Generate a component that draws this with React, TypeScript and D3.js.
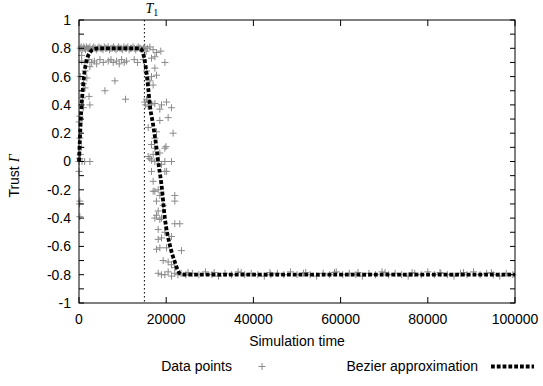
import React from 'react';
import * as d3 from 'd3';

// scatter measurements [simulation time, trust]
const dataPoints: [number, number][] = [
  // start column
  [0, 0], [150, 0.02], [700, 0.0], [1300, 0.0], [2500, 0.0], [300, 0.05], [500, 0.1],
  [200, 0.165], [50, 0.28], [200, 0.32], [0, -0.07], [200, -0.28], [100, -0.3], [200, -0.39],
  [600, 0.4], [1000, 0.38], [2500, 0.4], [2300, 0.46], [1400, 0.52], [1800, 0.59],
  [1400, 0.64], [2500, 0.67], [800, 0.45], [1000, 0.55], [300, 0.6], [600, 0.75],
  // plateau at 0.8
  [300, 0.8], [500, 0.81], [700, 0.79], [900, 0.8], [1100, 0.81], [1300, 0.8], [1500, 0.79],
  [1700, 0.81], [1900, 0.8], [2200, 0.8], [2500, 0.81], [2800, 0.79], [3100, 0.8], [3400, 0.81],
  [3700, 0.8], [4000, 0.79], [4300, 0.8], [4600, 0.81], [4900, 0.8], [5200, 0.8], [5500, 0.79],
  [5800, 0.81], [6100, 0.8], [6400, 0.8], [6700, 0.81], [7000, 0.79], [7300, 0.8], [7600, 0.8],
  [7900, 0.81], [8200, 0.8], [8500, 0.79], [8800, 0.8], [9100, 0.81], [9400, 0.8], [9700, 0.8],
  [10000, 0.79], [10300, 0.81], [10600, 0.8], [10900, 0.8], [11200, 0.81], [11500, 0.79],
  [11800, 0.8], [12100, 0.8], [12400, 0.81], [12700, 0.8], [13000, 0.79], [13300, 0.8],
  [13600, 0.81], [13900, 0.8], [14200, 0.8], [14500, 0.79], [14800, 0.8], [15100, 0.81],
  [15400, 0.78], [15700, 0.8], [16250, 0.81], [17000, 0.79], [17800, 0.77], [18770, 0.78],
  [17400, 0.74], [19700, 0.7], [16630, 0.73],
  // row near 0.7
  [610, 0.71], [1370, 0.7], [2290, 0.72], [2900, 0.7], [3510, 0.71], [4050, 0.69], [4800, 0.72],
  [5570, 0.7], [6710, 0.71], [7330, 0.72], [7860, 0.7], [8620, 0.71], [9230, 0.69], [9770, 0.72],
  [10380, 0.7], [10910, 0.71], [12670, 0.72], [13430, 0.7], [14730, 0.72],
  // outliers on plateau
  [8240, 0.57], [5950, 0.5], [10680, 0.44],
  // decline after T1
  [15490, 0.64], [16250, 0.57], [16630, 0.6], [17010, 0.54], [17400, 0.66], [17780, 0.61],
  [15100, 0.42], [15260, 0.4], [15870, 0.39], [16630, 0.4], [15490, 0.44], [16250, 0.42],
  [17400, 0.41], [18920, 0.4], [20070, 0.42], [21210, 0.38], [18540, 0.37], [20450, 0.31],
  [18540, 0.29], [21590, 0.2], [15870, 0.24], [17400, 0.165], [19690, 0.094], [18540, 0.06],
  [17010, 0.05], [16630, 0.01], [18160, 0], [19690, 0], [21210, 0], [17400, 0.094],
  [15870, 0.035], [16250, 0.02], [17400, 0], [16630, 0.12], [17780, 0.21], [19950, 0.105],
  [18920, -0.02], [19690, -0.07], [16630, -0.07], [20100, -0.07], [17010, -0.14], [17400, -0.21],
  [17010, -0.21], [18160, -0.2], [18540, -0.24], [21970, -0.24], [21970, -0.28], [17780, -0.28],
  [19300, -0.31], [18160, -0.35], [17400, -0.4], [17780, -0.38], [18920, -0.4], [18540, -0.41],
  [21970, -0.44], [23120, -0.44], [18160, -0.48], [19690, -0.5], [21210, -0.53], [18160, -0.55],
  [18920, -0.54], [18540, -0.61], [17780, -0.62], [20070, -0.61], [23500, -0.63], [19300, -0.7],
  [20450, -0.71], [21210, -0.73], [21970, -0.75],
  // floor at -0.8
  [18160, -0.79], [18920, -0.8], [19690, -0.8], [20450, -0.78], [21210, -0.81], [21970, -0.79],
  [22700, -0.8], [23400, -0.79], [24500, -0.8], [25000, -0.785], [26000, -0.79], [27500, -0.8],
  [29000, -0.78], [30500, -0.8], [31000, -0.785], [32000, -0.81], [33500, -0.79], [35000, -0.8],
  [36500, -0.78], [37200, -0.785], [38000, -0.8], [39500, -0.79], [41000, -0.8], [42500, -0.81],
  [43800, -0.785], [44000, -0.8], [45500, -0.79], [47000, -0.8], [48500, -0.78], [50000, -0.8],
  [51500, -0.79], [52000, -0.785], [53000, -0.8], [54500, -0.81], [56000, -0.79], [57500, -0.8],
  [58600, -0.785], [59000, -0.78], [60500, -0.8], [62000, -0.79], [63500, -0.8], [64000, -0.785],
  [65000, -0.81], [66500, -0.79], [68000, -0.8], [69500, -0.78], [70200, -0.785], [71000, -0.8],
  [72500, -0.79], [74000, -0.8], [75500, -0.81], [76400, -0.785], [77000, -0.79], [78500, -0.8],
  [80000, -0.78], [81500, -0.8], [82800, -0.785], [83000, -0.79], [84500, -0.8], [86000, -0.81],
  [87500, -0.79], [88200, -0.785], [89000, -0.8], [90500, -0.78], [92000, -0.8], [93500, -0.79],
  [94600, -0.785], [95000, -0.8], [96500, -0.81], [98000, -0.79], [99500, -0.8],
];

// bezier approximation
const bezierX = [0, 200, 500, 900, 1300, 1800, 2500, 3500, 5000, 14000, 14340, 15100, 15870, 16250,
  17000, 17780, 18160, 18920, 19690, 20830, 21970, 23100, 24260, 100000];
const bezierY = [0, 0.15, 0.35, 0.52, 0.64, 0.72, 0.77, 0.795, 0.8, 0.8, 0.79, 0.71, 0.52, 0.4,
  0.26, 0.094, 0, -0.165, -0.4, -0.59, -0.71, -0.79, -0.8, -0.8];

const xTicks = [0, 20000, 40000, 60000, 80000, 100000];
const yLabelTicks = [-1, -0.8, -0.6, -0.4, -0.2, 0, 0.2, 0.4, 0.6, 0.8, 1];
const yMinorTicks = [-1, -0.9, -0.8, -0.7, -0.6, -0.5, -0.4, -0.3, -0.2, -0.1, 0,
  0.1, 0.2, 0.3, 0.4, 0.5, 0.6, 0.7, 0.8, 0.9, 1];
const T1 = 15000;

const width = 543;
const height = 386;
const margin = { top: 20, right: 28, bottom: 83, left: 79 };
const font = '"Liberation Sans", Arial, sans-serif';

export default function App() {
  const innerW = width - margin.left - margin.right;
  const innerH = height - margin.top - margin.bottom;

  const x = d3.scaleLinear().domain([0, 100000]).range([margin.left, margin.left + innerW]);
  const y = d3.scaleLinear().domain([-1, 1]).range([margin.top + innerH, margin.top]);

  const bezier = bezierX.map((v, i) => [v, bezierY[i]] as [number, number]);
  const line = d3.line<[number, number]>()
    .x(d => x(d[0]))
    .y(d => y(d[1]))
    .curve(d3.curveMonotoneX);

  const gray = '#8a8a8a';
  const plus = (cx: number, cy: number, k: string | number) => (
    <path key={k} d={`M${cx - 3.5},${cy}H${cx + 3.5}M${cx},${cy - 3.5}V${cy + 3.5}`}
      stroke={gray} strokeWidth={1} fill="none" />
  );

  const x0 = x(0), x1 = x(100000), yTop = y(1), yBot = y(-1);

  return (
    <svg width={width} height={height} style={{ position: 'absolute', left: 0, top: 0, background: '#fff' }}
      fontFamily={font}>
      <rect x={0} y={0} width={width} height={height} fill="#fff" />

      {/* T1 marker */}
      <line x1={x(T1)} x2={x(T1)} y1={yTop} y2={yBot} stroke="#000" strokeWidth={1}
        strokeDasharray="1.5 2.5" />
      <text x={x(T1) + 1} y={13} fontFamily='"Liberation Serif", "DejaVu Serif", serif'
        fontStyle="italic" fontSize={14}>T<tspan fontSize={10} dy={3} fontStyle="normal">1</tspan></text>

      {/* scatter */}
      <g>{dataPoints.map((d, i) => plus(x(d[0]), y(d[1]), i))}</g>

      {/* bezier */}
      <path d={line(bezier) || ''} fill="none" stroke="#000" strokeWidth={3.8}
        strokeDasharray="3.8 2" />

      {/* frame */}
      <rect x={x0} y={yTop} width={x1 - x0} height={yBot - yTop} fill="none" stroke="#000" strokeWidth={1} />

      {/* ticks */}
      {xTicks.map(t => (
        <g key={'x' + t}>
          <line x1={x(t)} x2={x(t)} y1={yBot} y2={yBot - 6} stroke="#000" />
          <line x1={x(t)} x2={x(t)} y1={yTop} y2={yTop + 6} stroke="#000" />
          <text x={x(t)} y={yBot + 21} textAnchor="middle" fontSize={14}>{t}</text>
        </g>
      ))}
      {yMinorTicks.map(t => (
        <g key={'y' + t}>
          <line x1={x0} x2={x0 + 5} y1={y(t)} y2={y(t)} stroke="#000" />
          <line x1={x1} x2={x1 - 5} y1={y(t)} y2={y(t)} stroke="#000" />
        </g>
      ))}
      {yLabelTicks.map(t => (
        <text key={'yl' + t} x={x0 - 8} y={y(t)} dy="0.35em" textAnchor="end" fontSize={14}>
          {`${+t.toFixed(1)}`}
        </text>
      ))}

      {/* axis titles */}
      <text x={(x0 + x1) / 2} y={346} textAnchor="middle" fontSize={14}>Simulation time</text>
      <text transform={`translate(19,176) rotate(-90)`} textAnchor="middle" fontSize={14}>
        Trust <tspan fontFamily='"Liberation Serif", serif' fontStyle="italic">Γ</tspan>
      </text>

      {/* legend */}
      <text x={232} y={371} textAnchor="end" fontSize={14}>Data points</text>
      {plus(262, 366.5, 'legend-plus')}
      <text x={478} y={371} textAnchor="end" fontSize={14}>Bezier approximation</text>
      <line x1={491} x2={534} y1={366.5} y2={366.5} stroke="#000" strokeWidth={3.8} strokeDasharray="3.8 2" />
    </svg>
  );
}
